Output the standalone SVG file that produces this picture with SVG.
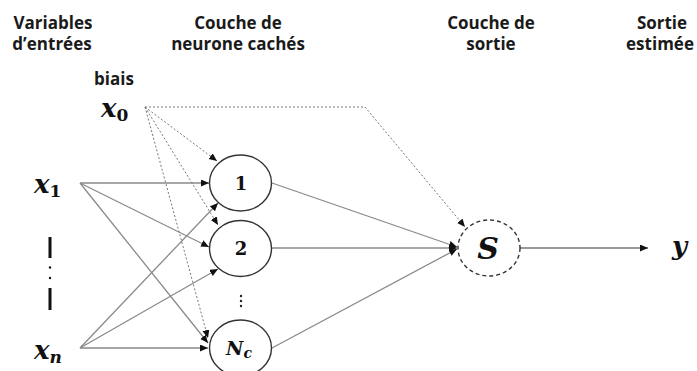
<svg xmlns="http://www.w3.org/2000/svg" width="697" height="371" viewBox="0 0 697 371">
<style>
.hdr{font-family:"Open Sans","Liberation Sans",sans-serif;font-weight:bold;font-size:17px;fill:#1a1a1a;text-anchor:middle}
.math{font-family:"DejaVu Serif","Liberation Serif",serif;font-weight:bold;font-style:italic;fill:#111}
.num{font-family:"DejaVu Serif","Liberation Serif",serif;font-weight:bold;fill:#111;text-anchor:middle}
.node{fill:#fff;stroke:#333;stroke-width:1.4}
.dnode{fill:#fff;stroke:#333;stroke-width:1.4;stroke-dasharray:4,3}
.solid{fill:none;stroke:#8a8a8a;stroke-width:1.3}
.out{fill:none;stroke:#333;stroke-width:1.2}
.dot{fill:none;stroke:#777;stroke-width:1;stroke-dasharray:2,2}
</style>
<defs>
<marker id="ah" markerUnits="userSpaceOnUse" markerWidth="9" markerHeight="8" refX="8" refY="3.5" orient="auto">
<path d="M0,0 L8,3.5 L0,7 z" fill="#111"/>
</marker>
</defs>

<g id="headers">
<text class="hdr" x="53" y="29">Variables</text>
<text class="hdr" x="52" y="50">d’entrées</text>
<text class="hdr" x="238" y="29">Couche de</text>
<text class="hdr" x="238" y="50">neurone cachés</text>
<text class="hdr" x="491" y="29">Couche de</text>
<text class="hdr" x="491" y="50">sortie</text>
<text class="hdr" x="662" y="29">Sortie</text>
<text class="hdr" x="660" y="50">estimée</text>
</g>

<g id="connectors">
<line class="solid" x1="80" y1="183" x2="209" y2="183" marker-end="url(#ah)"/>
<line class="solid" x1="80" y1="183" x2="209" y2="247" marker-end="url(#ah)"/>
<line class="solid" x1="80" y1="183" x2="208" y2="343" marker-end="url(#ah)"/>
<line class="solid" x1="80" y1="348" x2="218" y2="203" marker-end="url(#ah)"/>
<line class="solid" x1="80" y1="348" x2="218" y2="269" marker-end="url(#ah)"/>
<line class="solid" x1="80" y1="348" x2="208" y2="348" marker-end="url(#ah)"/>
<line class="dot" x1="145" y1="107" x2="217" y2="161" marker-end="url(#ah)"/>
<line class="dot" x1="145" y1="107" x2="218" y2="225" marker-end="url(#ah)"/>
<line class="dot" x1="145" y1="107" x2="208" y2="338" marker-end="url(#ah)"/>
<polyline class="dot" points="145,107 365,107 465,227" marker-end="url(#ah)"/>
<line class="solid" x1="272" y1="183" x2="457" y2="247" marker-end="url(#ah)"/>
<line class="solid" x1="272" y1="248" x2="457" y2="248" marker-end="url(#ah)"/>
<line class="solid" x1="272" y1="348" x2="457" y2="249" marker-end="url(#ah)"/>
<line class="out" x1="520" y1="248" x2="648" y2="248" marker-end="url(#ah)"/>
</g>

<g id="bias">
<text class="hdr" x="114" y="85">biais</text>
<text class="math" x="101" y="117" font-size="26">x<tspan font-size="17" dy="4" font-style="normal">0</tspan></text>
</g>

<g id="input-x1">
<text class="math" x="34" y="193" font-size="26">x<tspan font-size="17" dy="4" font-style="normal">1</tspan></text>
</g>

<g id="input-ellipsis">
<rect x="48.5" y="237" width="3" height="21" fill="#111"/>
<circle cx="50" cy="267.5" r="1.2" fill="#111"/>
<circle cx="50" cy="278" r="1.2" fill="#111"/>
<rect x="48.5" y="288" width="3" height="22" fill="#111"/>
</g>

<g id="input-xn">
<text class="math" x="34" y="359" font-size="26">x<tspan font-size="17" dy="4">n</tspan></text>
</g>

<g id="hidden-1">
<ellipse class="node" cx="240.5" cy="183" rx="31" ry="28"/>
<text class="num" x="241" y="190" font-size="18">1</text>
</g>

<g id="hidden-2">
<ellipse class="node" cx="240.5" cy="248.5" rx="31" ry="28"/>
<text class="num" x="241" y="255" font-size="18">2</text>
</g>

<g id="hidden-ellipsis">
<circle cx="241" cy="296" r="1.2" fill="#222"/>
<circle cx="241" cy="301" r="1.2" fill="#222"/>
<circle cx="241" cy="306" r="1.2" fill="#222"/>
</g>

<g id="hidden-Nc">
<ellipse class="node" cx="240.5" cy="348" rx="31" ry="28"/>
<text class="math" x="226" y="355" font-size="19">N<tspan font-size="14" dy="3">c</tspan></text>
</g>

<g id="output-S">
<ellipse class="dnode" cx="489" cy="248" rx="31" ry="28"/>
<text class="math" x="488" y="259" font-size="30" text-anchor="middle">S</text>
</g>

<g id="output-y">
<text class="math" x="672" y="255" font-size="26">y</text>
</g>
</svg>
